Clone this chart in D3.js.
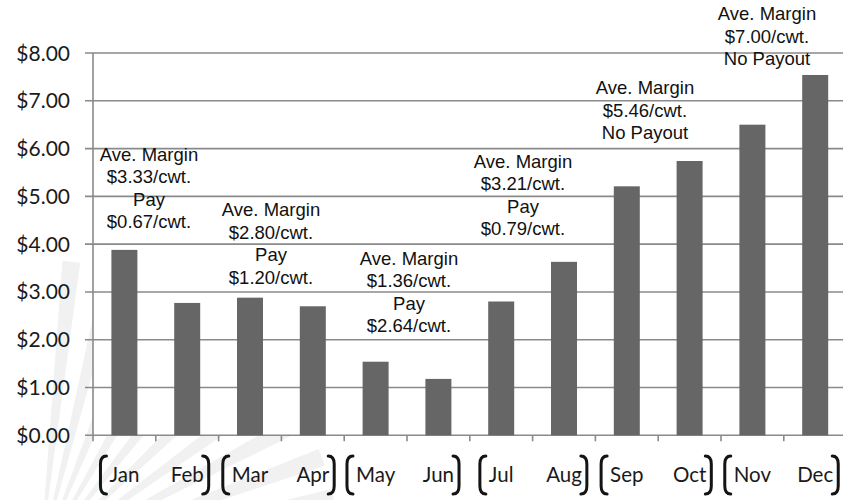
<!DOCTYPE html>
<html>
<head>
<meta charset="utf-8">
<script src="https://cdn.jsdelivr.net/npm/d3@7"></script>
<style>
  html, body { margin: 0; padding: 0; background: #fff; }
  svg { display: block; }
</style>
</head>
<body>
<svg id="chart" width="843" height="500"></svg>
<script>
// ---- data ----
const months = ["Jan","Feb","Mar","Apr","May","Jun","Jul","Aug","Sep","Oct","Nov","Dec"];
const values = [3.88, 2.77, 2.88, 2.70, 1.54, 1.18, 2.80, 3.63, 5.21, 5.74, 6.50, 7.54];
const yTicks = [0, 1, 2, 3, 4, 5, 6, 7, 8];
const yTickLabels = ["$0.00","$1.00","$2.00","$3.00","$4.00","$5.00","$6.00","$7.00","$8.00"];
// bimonthly groups (first and last month of each bracket)
const groupStart = ["Jan","Mar","May","Jul","Sep","Nov"];
const groupEnd   = ["Feb","Apr","Jun","Aug","Oct","Dec"];
// annotation texts per group
const annotations = [
  ["Ave. Margin","$3.33/cwt.","Pay","$0.67/cwt."],
  ["Ave. Margin","$2.80/cwt.","Pay","$1.20/cwt."],
  ["Ave. Margin","$1.36/cwt.","Pay","$2.64/cwt."],
  ["Ave. Margin","$3.21/cwt.","Pay","$0.79/cwt."],
  ["Ave. Margin","$5.46/cwt.","No Payout"],
  ["Ave. Margin","$7.00/cwt.","No Payout"]
];

// ---- layout (not data) ----
const annLayout = [
  {dx: -6.8,  y: 5.75},
  {dx: -10.4, y: 4.58},
  {dx: 2,     y: 3.57},
  {dx: -9.6,  y: 5.60},
  {dx: -13.2, y: 7.14},
  {dx: -16.8, y: 8.69}
];

const svg = d3.select("#chart");

const y = d3.scaleLinear().domain([0, 8]).range([435.3, 53]);
const x = d3.scaleBand().domain(months).range([93, 846.6]).paddingInner(0.586).paddingOuter(0.293);
const step = x.step();
const center = m => x(m) + x.bandwidth()/2;

// faint background watermark rays at lower left
const bg = svg.append("g");
const cx0 = 40, cy0 = 560;
for (let a = -84; a <= -8; a += 8) {
  const r1 = 300, w = 3.4;
  const a1 = (a - w/2) * Math.PI/180, a2 = (a + w/2) * Math.PI/180;
  bg.append("path")
    .attr("d", `M${cx0},${cy0} L${cx0 + r1*Math.cos(a1)},${cy0 + r1*Math.sin(a1)} L${cx0 + r1*Math.cos(a2)},${cy0 + r1*Math.sin(a2)} Z`)
    .attr("fill", "#f1f1f1");
}
// plot area stays white
bg.append("rect").attr("x", 93).attr("y", y(8)).attr("width", 843 - 93).attr("height", y(0) - y(8)).attr("fill", "#fff");

// gridlines
svg.append("g").selectAll("line").data(yTicks).join("line")
  .attr("x1", 85).attr("x2", 843)
  .attr("y1", d => y(d)).attr("y2", d => y(d))
  .attr("stroke", "#8a8a8a").attr("stroke-width", 1.6);

// y axis line
svg.append("line")
  .attr("x1", 93).attr("x2", 93).attr("y1", y(8)).attr("y2", y(0) + 6)
  .attr("stroke", "#8a8a8a").attr("stroke-width", 1.6);

// x tick marks at band boundaries
const bounds = months.map(m => center(m) + step/2);
svg.append("g").selectAll("line").data(bounds).join("line")
  .attr("x1", d => d).attr("x2", d => d)
  .attr("y1", y(0)).attr("y2", y(0) + 6)
  .attr("stroke", "#8a8a8a").attr("stroke-width", 1.6);

// y labels
svg.append("g").selectAll("text").data(yTicks).join("text")
  .attr("x", 70).attr("y", d => y(d)).attr("dy", "0.36em")
  .attr("text-anchor", "end")
  .attr("font-family", "Lato, 'Open Sans', sans-serif")
  .attr("font-size", 21).attr("fill", "#1a1a1a")
  .text((d, i) => yTickLabels[i]);

// bars
svg.append("g").selectAll("rect").data(months).join("rect")
  .attr("x", m => x(m)).attr("width", x.bandwidth())
  .attr("y", (m, i) => y(values[i]))
  .attr("height", (m, i) => y(0) - y(values[i]))
  .attr("fill", "#666666");

// month labels
const labelY = 482;
const labels = svg.append("g").selectAll("text").data(months).join("text")
  .attr("x", m => center(m)).attr("y", labelY)
  .attr("text-anchor", "middle")
  .attr("font-family", "Lato, 'Open Sans', sans-serif")
  .attr("font-size", 20.5).attr("fill", "#1a1a1a")
  .text(m => m);

// brackets
const widths = {};
labels.each(function(m) { widths[m] = this.getComputedTextLength(); });
const bTop = 456, bBot = 494, hook = 6;
const brG = svg.append("g").attr("fill", "none").attr("stroke", "#141414").attr("stroke-width", 3).attr("stroke-linecap", "round");
groupStart.forEach(m => {
  const xl = center(m) - widths[m]/2 - 9;
  brG.append("path").attr("d",
    `M${xl + hook},${bTop} Q${xl},${bTop} ${xl},${bTop + 8} L${xl},${bBot - 8} Q${xl},${bBot} ${xl + hook},${bBot}`);
});
groupEnd.forEach(m => {
  const xr = center(m) + widths[m]/2 + 5;
  brG.append("path").attr("d",
    `M${xr - hook},${bTop} Q${xr},${bTop} ${xr},${bTop + 8} L${xr},${bBot - 8} Q${xr},${bBot} ${xr - hook},${bBot}`);
});

// annotations
const lineH = 22.5;
annotations.forEach((lines, i) => {
  const mid = (center(groupStart[i]) + center(groupEnd[i])) / 2 + annLayout[i].dx;
  const t = svg.append("text")
    .attr("text-anchor", "middle")
    .attr("font-family", "'Liberation Sans', Arial, sans-serif")
    .attr("font-size", 18.5).attr("fill", "#111");
  lines.forEach((s, k) => {
    t.append("tspan").attr("x", mid).attr("y", y(annLayout[i].y) + k * lineH).text(s);
  });
});
</script>
</body>
</html>
